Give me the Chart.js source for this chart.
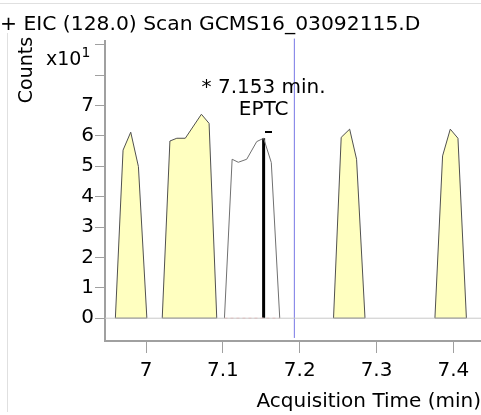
<!DOCTYPE html>
<html>
<head>
<meta charset="utf-8">
<script src="https://cdn.jsdelivr.net/npm/chart.js@4.4.0/dist/chart.umd.js"></script>
<style>
  html, body { margin: 0; padding: 0; background: #fff; }
  #wrap { width: 481px; height: 415px; position: relative; }
</style>
</head>
<body>
<div id="wrap"><canvas id="chart"></canvas></div>
<script>
// chromatogram traces (time in min, counts x10^1)
const peak1Time = [6.960, 6.970, 6.980, 6.990, 7.001];
const peak1Counts = [0, 5.53, 6.12, 4.99, 0];
const peak2Time = [7.021, 7.031, 7.040, 7.051, 7.072, 7.082, 7.092];
const peak2Counts = [0, 5.83, 5.92, 5.92, 6.71, 6.41, 0];
const eptcTime = [7.102, 7.112, 7.120, 7.131, 7.144, 7.153, 7.163, 7.174];
const eptcCounts = [0, 5.23, 5.13, 5.23, 5.81, 5.92, 5.12, 0];
const peak4Time = [7.244, 7.254, 7.265, 7.274, 7.285];
const peak4Counts = [0, 5.95, 6.22, 5.23, 0];
const peak5Time = [7.376, 7.386, 7.396, 7.406, 7.417];
const peak5Counts = [0, 5.34, 6.22, 5.92, 0];

const eptcApexTime = 7.153;
const eptcApexCounts = 5.92;
const cursorTime = 7.193;

const xTicks = [7, 7.1, 7.2, 7.3, 7.4];
const yTicks = [0, 1, 2, 3, 4, 5, 6, 7, 8, 9];
const yLabelled = [0, 1, 2, 3, 4, 5, 6, 7];
const xRange = [6.9465, 7.436];
const yRange = [-0.75, 9.12];

const FONT = '"DejaVu Sans", Verdana, sans-serif';
const fill = '#FFFFC0';
const outline = '#505050';

function pts(times, counts) {
    return times.map((t, i) => ({ x: t, y: counts[i] }));
}

function peak(times, counts) {
    const p = pts(times, counts);
    p.push({ x: times[0], y: counts[0] }); // close the shape along the baseline
    return {
        data: p,
        showLine: true,
        fill: 'shape',
        backgroundColor: fill,
        borderColor: outline,
        borderWidth: 1,
        pointRadius: 0
    };
}

const decor = {
    id: 'decor',
    beforeDraw(chart) {
        const ctx = chart.ctx;
        ctx.save();
        ctx.strokeStyle = '#e0e0e0';
        ctx.lineWidth = 1;
        ctx.beginPath();
        ctx.moveTo(0, 3.5);
        ctx.lineTo(chart.width, 3.5);
        ctx.moveTo(7.5, 33);
        ctx.lineTo(7.5, 412);
        ctx.stroke();
        ctx.restore();
    },
    afterDraw(chart) {
        const ctx = chart.ctx;
        const xs = chart.scales.x, ys = chart.scales.y;
        ctx.save();
        ctx.fillStyle = '#000';
        ctx.textBaseline = 'alphabetic';

        // title
        ctx.font = '20.3px ' + FONT;
        ctx.textAlign = 'left';
        ctx.fillText('+ EIC (128.0) Scan GCMS16_03092115.D', 0, 30);

        // y unit
        ctx.font = '19px ' + FONT;
        ctx.fillText('x10', 46, 65);
        const w = ctx.measureText('x10').width;
        ctx.font = '14px ' + FONT;
        ctx.fillText('1', 46 + w, 57);

        // y title
        ctx.save();
        ctx.translate(32, 70);
        ctx.rotate(-Math.PI / 2);
        ctx.font = '19px ' + FONT;
        ctx.textAlign = 'center';
        ctx.fillText('Counts', 0, 0);
        ctx.restore();

        // peak label
        const px = xs.getPixelForValue(eptcApexTime);
        const py = ys.getPixelForValue(eptcApexCounts);
        ctx.font = '20px ' + FONT;
        ctx.textAlign = 'center';
        ctx.fillText('* ' + eptcApexTime.toFixed(3) + ' min.', px, py - 45);
        ctx.fillText('EPTC', px, py - 23);
        ctx.fillRect(Math.round(px) + 1, Math.round(py) - 7, 7, 2);
        ctx.restore();
    }
};

const ctx = document.getElementById('chart').getContext('2d');
new Chart(ctx, {
    type: 'scatter',
    data: {
        datasets: [
            {
                data: pts(xRange, [0, 0]),
                showLine: true,
                borderColor: '#c8c8c8',
                borderWidth: 1,
                pointRadius: 0
            },
            peak(peak1Time, peak1Counts),
            peak(peak2Time, peak2Counts),
            peak(peak4Time, peak4Counts),
            peak(peak5Time, peak5Counts),
            {
                data: pts(eptcTime, eptcCounts),
                showLine: true,
                borderColor: '#707070',
                borderWidth: 1,
                pointRadius: 0
            },
            {
                data: pts([eptcTime[0], eptcTime[eptcTime.length - 1]], [0, 0]),
                showLine: true,
                borderColor: '#ffb4b4',
                borderDash: [3, 3],
                borderWidth: 1,
                pointRadius: 0
            },
            {
                data: pts([eptcApexTime, eptcApexTime], [0, eptcApexCounts]),
                showLine: true,
                borderColor: '#000',
                borderWidth: 3,
                pointRadius: 0
            },
            {
                data: pts([cursorTime, cursorTime], [-0.65, 9.2]),
                showLine: true,
                borderColor: '#7878e6',
                borderWidth: 1,
                pointRadius: 0,
                clip: false
            }
        ]
    },
    options: {
        responsive: true,
        maintainAspectRatio: false,
        animation: false,
        events: [],
        layout: { padding: { top: 41, left: 0, right: 0, bottom: 0 } },
        plugins: {
            legend: { display: false },
            tooltip: { enabled: false }
        },
        scales: {
            x: {
                type: 'linear',
                min: xRange[0],
                max: xRange[1],
                afterBuildTicks: (s) => { s.ticks = xTicks.map(v => ({ value: v })); },
                afterFit: (s) => { s.height = 74; },
                ticks: {
                    font: { family: FONT, size: 20 },
                    color: '#000',
                    padding: 6,
                    maxRotation: 0,
                    callback: (v) => String(Math.round(v * 10) / 10)
                },
                grid: {
                    drawOnChartArea: false,
                    tickLength: 12,
                    color: '#a0a0a0'
                },
                border: { color: '#a0a0a0', width: 2 },
                title: {
                    display: true,
                    text: 'Acquisition Time (min)',
                    align: 'end',
                    color: '#000',
                    font: { family: FONT, size: 20 },
                    padding: { top: 0, bottom: 1 }
                }
            },
            y: {
                min: yRange[0],
                max: yRange[1],
                afterBuildTicks: (s) => { s.ticks = yTicks.map(v => ({ value: v })); },
                afterFit: (s) => { s.width = 105; },
                ticks: {
                    font: { family: FONT, size: 20 },
                    color: '#000',
                    padding: 1,
                    callback: (v) => yLabelled.includes(v) ? String(v) : ''
                },
                grid: {
                    drawOnChartArea: false,
                    tickLength: 10,
                    color: '#a0a0a0'
                },
                border: { color: '#a0a0a0', width: 2 }
            }
        }
    },
    plugins: [decor]
});
</script>
</body>
</html>
